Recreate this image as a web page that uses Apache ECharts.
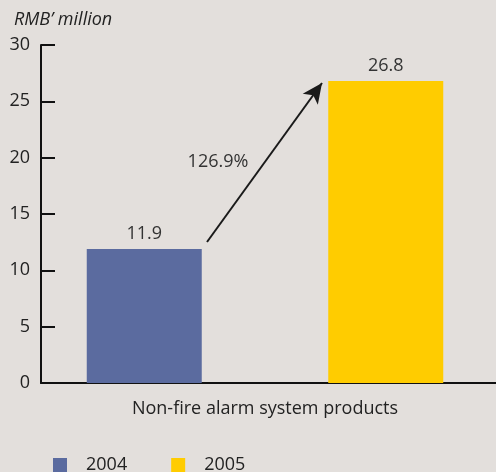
<!DOCTYPE html>
<html>
<head>
<meta charset="utf-8">
<script src="https://cdn.jsdelivr.net/npm/echarts@6/dist/echarts.min.js"></script>
<style>
  html, body { margin: 0; padding: 0; background: #e3dfdc; }
  #chart { width: 496px; height: 472px; }
</style>
</head>
<body>
<div id="chart"></div>
<script>
const categories = ['Non-fire alarm system products'];
const years = ['2004', '2005'];
const values2004 = [11.9];
const values2005 = [26.8];
const growthLabel = '126.9%';
const unitLabel = 'RMB\u2019 million';

const FONT = '"Open Sans", "DejaVu Sans", sans-serif';
const FS = 18;
const chart = echarts.init(document.getElementById('chart'), null, { renderer: 'canvas' });

const labelStyle = {
  show: true, position: 'top', distance: 6,
  color: '#333', fontSize: FS, fontFamily: FONT
};

chart.setOption({
  backgroundColor: '#e3dfdc',
  animation: false,
  grid: { left: 41, right: 7, top: 45, bottom: 89 },
  title: {
    text: unitLabel, left: 9, top: 6,
    textStyle: { fontSize: FS, fontStyle: 'italic', fontWeight: 'normal', color: '#222', fontFamily: FONT }
  },
  legend: {
    data: years, left: 53, top: 456, padding: 0, itemWidth: 14, itemHeight: 14, itemGap: 44,
    icon: 'rect',
    textStyle: { fontSize: FS, color: '#222', fontFamily: FONT, padding: [0, 0, 0, 14] }
  },
  xAxis: {
    type: 'category', data: categories,
    axisLine: { lineStyle: { color: '#111', width: 2 } },
    axisTick: { show: false },
    axisLabel: { color: '#222', fontSize: FS, fontFamily: FONT, margin: 17 }
  },
  yAxis: {
    type: 'value', min: 0, max: 30, interval: 5,
    axisLine: { show: true, lineStyle: { color: '#111', width: 2 } },
    axisTick: { show: true, inside: true, length: 14, lineStyle: { color: '#111', width: 2 } },
    splitLine: { show: false },
    axisLabel: { color: '#222', fontSize: FS, fontFamily: FONT, margin: 11 }
  },
  series: [
    {
      name: years[0], type: 'bar', data: values2004,
      barWidth: 115, barGap: '110%',
      itemStyle: { color: '#5b6b9f' },
      label: labelStyle,
      markLine: {
        silent: true, symbol: ['none', 'arrow'], symbolSize: [14, 20],
        lineStyle: { color: '#1a1a1a', width: 2, type: 'solid' },
        label: { show: false },
        data: [[{ x: 207, y: 242 }, { x: 322, y: 83 }]]
      }
    },
    {
      name: years[1], type: 'bar', data: values2005,
      barWidth: 115,
      itemStyle: { color: '#ffcc00' },
      label: labelStyle
    }
  ],
  graphic: [
    // baseline continues to the right edge
    { type: 'line', shape: { x1: 488, y1: 383, x2: 496, y2: 383 }, style: { stroke: '#111', lineWidth: 2 } },
    // growth annotation beside the arrow
    { type: 'text', x: 218, y: 162, style: { text: growthLabel, fill: '#333', fontSize: FS, fontFamily: FONT, align: 'center', verticalAlign: 'middle' } }
  ]
});
</script>
</body>
</html>
